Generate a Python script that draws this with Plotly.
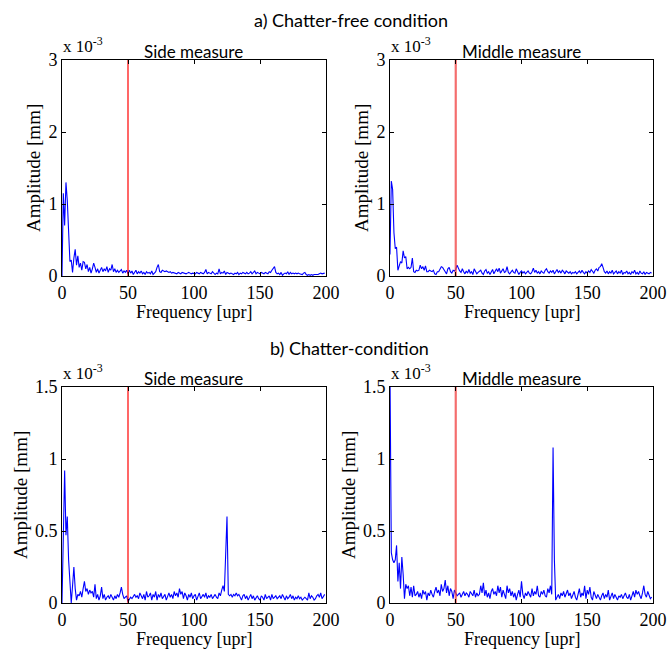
import plotly.graph_objects as go

# Frequency axis [upr]
freq = list(range(200))

# Amplitudes in units of 1e-3 mm
side_free = [
    0.00, 1.15, 0.70, 1.30, 1.05, 0.70, 0.20, 0.22, 0.05, 0.25,
    0.37, 0.15, 0.28, 0.12, 0.18, 0.08, 0.20, 0.19, 0.10, 0.16,
    0.06, 0.12, 0.04, 0.10, 0.18, 0.12, 0.05, 0.10, 0.04, 0.08,
    0.12, 0.06, 0.10, 0.07, 0.13, 0.05, 0.10, 0.08, 0.16, 0.06,
    0.10, 0.05, 0.08, 0.05, 0.07, 0.09, 0.04, 0.07, 0.05, 0.08,
    0.03, 0.08, 0.04, 0.07, 0.02, 0.06, 0.08, 0.03, 0.06, 0.04,
    0.07, 0.03, 0.05, 0.02, 0.06, 0.04, 0.05, 0.03, 0.07, 0.02,
    0.04, 0.06, 0.12, 0.16, 0.06, 0.05, 0.08, 0.07, 0.06, 0.07,
    0.06, 0.05, 0.06, 0.04, 0.05, 0.04, 0.04, 0.03, 0.05, 0.04,
    0.03, 0.05, 0.04, 0.04, 0.03, 0.04, 0.05, 0.04, 0.03, 0.04,
    0.04, 0.03, 0.05, 0.04, 0.03, 0.05, 0.04, 0.03, 0.05, 0.09,
    0.03, 0.05, 0.04, 0.03, 0.06, 0.04, 0.02, 0.04, 0.03, 0.10,
    0.03, 0.05, 0.04, 0.07, 0.02, 0.05, 0.04, 0.03, 0.04, 0.03,
    0.02, 0.04, 0.03, 0.05, 0.02, 0.04, 0.03, 0.05, 0.04, 0.03,
    0.05, 0.03, 0.04, 0.06, 0.03, 0.05, 0.07, 0.03, 0.05, 0.04,
    0.03, 0.05, 0.04, 0.03, 0.05, 0.04, 0.03, 0.06, 0.05, 0.08,
    0.10, 0.13, 0.05, 0.03, 0.04, 0.02, 0.05, 0.01, 0.03, 0.04,
    0.03, 0.06, 0.02, 0.05, 0.03, 0.04, 0.03, 0.04, 0.03, 0.04,
    0.03, 0.03, 0.02, 0.04, 0.05, 0.02, 0.01, 0.02, 0.01, 0.02,
    0.01, 0.02, 0.02, 0.01, 0.02, 0.03, 0.04, 0.03, 0.04, 0.04,
]

middle_free = [
    0.30, 1.32, 1.20, 0.60, 0.38, 0.40, 0.08, 0.15, 0.20, 0.18,
    0.35, 0.25, 0.27, 0.10, 0.12, 0.10, 0.12, 0.25, 0.06, 0.05,
    0.08, 0.07, 0.08, 0.15, 0.10, 0.13, 0.08, 0.14, 0.06, 0.06,
    0.08, 0.07, 0.06, 0.08, 0.03, 0.02, 0.06, 0.06, 0.10, 0.13,
    0.12, 0.08, 0.06, 0.03, 0.10, 0.12, 0.06, 0.04, 0.08, 0.07,
    0.09, 0.15, 0.10, 0.07, 0.05, 0.10, 0.06, 0.03, 0.07, 0.04,
    0.09, 0.04, 0.06, 0.02, 0.10, 0.05, 0.03, 0.05, 0.06, 0.08,
    0.04, 0.02, 0.07, 0.09, 0.04, 0.06, 0.02, 0.05, 0.09, 0.03,
    0.08, 0.10, 0.06, 0.11, 0.04, 0.08, 0.10, 0.05, 0.06, 0.13,
    0.05, 0.03, 0.06, 0.08, 0.05, 0.04, 0.10, 0.06, 0.02, 0.05,
    0.07, 0.04, 0.06, 0.03, 0.05, 0.07, 0.04, 0.03, 0.06, 0.11,
    0.05, 0.08, 0.04, 0.06, 0.03, 0.07, 0.05, 0.04, 0.08, 0.10,
    0.06, 0.04, 0.07, 0.05, 0.08, 0.03, 0.06, 0.09, 0.05, 0.07,
    0.04, 0.08, 0.06, 0.03, 0.07, 0.05, 0.04, 0.06, 0.03, 0.05,
    0.04, 0.06, 0.03, 0.05, 0.07, 0.04, 0.08, 0.05, 0.03, 0.06,
    0.04, 0.07, 0.05, 0.09, 0.06, 0.04, 0.08, 0.10, 0.07, 0.12,
    0.13, 0.17, 0.12, 0.06, 0.04, 0.07, 0.03, 0.06, 0.04, 0.08,
    0.03, 0.05, 0.07, 0.03, 0.06, 0.04, 0.08, 0.02, 0.05, 0.04,
    0.07, 0.03, 0.05, 0.02, 0.06, 0.04, 0.08, 0.03, 0.05, 0.02,
    0.07, 0.04, 0.03, 0.06, 0.02, 0.05, 0.04, 0.03, 0.05, 0.04,
]

side_chatter = [
    0.00, 0.60, 0.92, 0.47, 0.60, 0.30, 0.15, 0.00, 0.12, 0.25,
    0.10, 0.02, 0.06, 0.05, 0.08, 0.04, 0.10, 0.15, 0.08, 0.10,
    0.06, 0.09, 0.07, 0.08, 0.04, 0.13, 0.03, 0.06, 0.02, 0.05,
    0.11, 0.03, 0.06, 0.02, 0.04, 0.05, 0.03, 0.06, 0.04, 0.02,
    0.05, 0.03, 0.06, 0.04, 0.07, 0.11, 0.06, 0.03, 0.04, 0.05,
    0.01, 0.03, 0.04, 0.03, 0.05, 0.06, 0.04, 0.05, 0.03, 0.07,
    0.05, 0.03, 0.06, 0.02, 0.08, 0.04, 0.05, 0.07, 0.02, 0.06,
    0.04, 0.08, 0.02, 0.06, 0.04, 0.07, 0.03, 0.05, 0.06, 0.02,
    0.05, 0.07, 0.04, 0.06, 0.03, 0.08, 0.05, 0.07, 0.04, 0.10,
    0.06, 0.08, 0.03, 0.07, 0.05, 0.02, 0.06, 0.04, 0.07, 0.03,
    0.05, 0.06, 0.02, 0.04, 0.07, 0.03, 0.05, 0.06, 0.04, 0.07,
    0.03, 0.05, 0.04, 0.06, 0.03, 0.05, 0.06, 0.04, 0.03, 0.07,
    0.05, 0.09, 0.12, 0.08, 0.30, 0.60, 0.06, 0.05, 0.06, 0.04,
    0.06, 0.05, 0.07, 0.05, 0.06, 0.04, 0.02, 0.05, 0.06, 0.03,
    0.05, 0.02, 0.04, 0.06, 0.03, 0.05, 0.02, 0.04, 0.05, 0.03,
    0.02, 0.05, 0.04, 0.02, 0.06, 0.03, 0.04, 0.05, 0.02, 0.06,
    0.03, 0.04, 0.05, 0.03, 0.04, 0.05, 0.03, 0.06, 0.04, 0.02,
    0.05, 0.03, 0.04, 0.06, 0.03, 0.05, 0.02, 0.04, 0.03, 0.05,
    0.03, 0.04, 0.02, 0.03, 0.04, 0.03, 0.02, 0.07, 0.03, 0.05,
    0.04, 0.02, 0.03, 0.05, 0.06, 0.04, 0.07, 0.03, 0.05, 0.06,
]

middle_chatter = [
    1.60, 0.35, 0.30, 0.28, 0.30, 0.40, 0.15, 0.28, 0.10, 0.32,
    0.20, 0.03, 0.13, 0.10, 0.12, 0.05, 0.11, 0.04, 0.12, 0.05,
    0.06, 0.08, 0.04, 0.07, 0.03, 0.09, 0.06, 0.08, 0.02, 0.07,
    0.05, 0.09, 0.06, 0.04, 0.08, 0.11, 0.07, 0.09, 0.05, 0.13,
    0.08, 0.10, 0.16, 0.07, 0.12, 0.05, 0.10, 0.08, 0.03, 0.09,
    0.07, 0.05, 0.06, 0.07, 0.04, 0.06, 0.08, 0.05, 0.07, 0.06,
    0.04, 0.08, 0.06, 0.05, 0.09, 0.04, 0.07, 0.05, 0.06, 0.12,
    0.07, 0.14, 0.05, 0.09, 0.04, 0.07, 0.03, 0.08, 0.10, 0.06,
    0.08, 0.05, 0.12, 0.07, 0.11, 0.04, 0.09, 0.06, 0.03, 0.12,
    0.07, 0.10, 0.05, 0.08, 0.04, 0.07, 0.02, 0.06, 0.09, 0.04,
    0.15, 0.06, 0.03, 0.07, 0.05, 0.08, 0.06, 0.04, 0.10, 0.05,
    0.08, 0.06, 0.12, 0.05, 0.04, 0.08, 0.06, 0.09, 0.05, 0.04,
    0.10, 0.07, 0.12, 0.06, 1.08, 0.30, 0.02, 0.04, 0.06, 0.03,
    0.07, 0.05, 0.08, 0.04, 0.06, 0.09, 0.05, 0.07, 0.03, 0.06,
    0.08, 0.04, 0.02, 0.06, 0.10, 0.04, 0.07, 0.05, 0.12, 0.03,
    0.09, 0.06, 0.11, 0.04, 0.02, 0.08, 0.05, 0.03, 0.06, 0.04,
    0.02, 0.05, 0.07, 0.03, 0.06, 0.04, 0.09, 0.02, 0.05, 0.07,
    0.03, 0.06, 0.04, 0.02, 0.05, 0.04, 0.06, 0.03, 0.05, 0.07,
    0.04, 0.03, 0.06, 0.02, 0.05, 0.08, 0.04, 0.09, 0.06, 0.08,
    0.05, 0.03, 0.07, 0.12, 0.06, 0.04, 0.08, 0.05, 0.03, 0.04,
]

marker_freq = 50
x_ticks = [0, 50, 100, 150, 200]
y_ticks_free = [0, 1, 2, 3]
y_ticks_chatter = [0, 0.5, 1, 1.5]

W, H = 667, 650
def px_x(p): return p / W
def px_y(p): return 1 - p / H

panels = [
    # data, subtitle, x px, y px, y range, y ticks, red marker style, y-title offset
    (side_free, "Side measure", (62, 326), (60, 276), [0, 3], y_ticks_free, ("#ff0000", 1.2), 29),
    (middle_free, "Middle measure", (390, 653), (60, 276), [0, 3], y_ticks_free, ("rgba(240,60,60,0.75)", 2.2), 29),
    (side_chatter, "Side measure", (62, 326), (387, 603), [0, 1.5], y_ticks_chatter, ("#ff0000", 1.2), 42),
    (middle_chatter, "Middle measure", (390, 653), (387, 603), [0, 1.5], y_ticks_chatter, ("rgba(240,60,60,0.75)", 2.2), 42),
]

serif = "Liberation Serif, Times New Roman, serif"
sans = "Lato, Open Sans, sans-serif"
black = "black"

fig = go.Figure()
layout = dict(width=W, height=H, margin=dict(l=0, r=0, t=0, b=0, autoexpand=False),
              paper_bgcolor="white", plot_bgcolor="white", showlegend=False)
annotations = []

for i, (data, sub, xd, yd, yr, yt, red, yoff) in enumerate(panels):
    n = i + 1
    xa = "x" if n == 1 else f"x{n}"
    ya = "y" if n == 1 else f"y{n}"
    xkey = "xaxis" if n == 1 else f"xaxis{n}"
    ykey = "yaxis" if n == 1 else f"yaxis{n}"
    fig.add_trace(go.Scatter(x=freq, y=data, mode="lines",
                             line=dict(color="#0000ff", width=1.1),
                             xaxis=xa, yaxis=ya, hoverinfo="skip"))
    fig.add_trace(go.Scatter(x=[marker_freq, marker_freq], y=[yr[0], yr[1]], mode="lines",
                             line=dict(color=red[0], width=red[1]),
                             xaxis=xa, yaxis=ya, hoverinfo="skip"))
    common = dict(showline=True, linecolor=black, linewidth=1, mirror="ticks",
                  ticks="inside", ticklen=4, tickcolor=black, showgrid=False,
                  zeroline=False, automargin=False,
                  tickfont=dict(family=serif, size=18, color=black))
    layout[xkey] = dict(domain=[px_x(xd[0]), px_x(xd[1])], range=[0, 200],
                        tickvals=x_ticks, anchor=ya, **common)
    layout[ykey] = dict(domain=[px_y(yd[1]), px_y(yd[0])], range=yr,
                        tickvals=yt, anchor=xa, **common)
    cx = (xd[0] + xd[1]) / 2
    cy = (yd[0] + yd[1]) / 2
    annotations.append(dict(text="Amplitude [mm]", x=px_x(xd[0] - yoff), y=px_y(cy),
                            xref="paper", yref="paper", xanchor="center", yanchor="middle",
                            textangle=-90, showarrow=False,
                            font=dict(family=serif, size=19, color=black)))
    annotations.append(dict(text="Frequency [upr]", x=px_x(cx), y=px_y(yd[1] + 36),
                            xref="paper", yref="paper", xanchor="center", yanchor="middle",
                            showarrow=False, font=dict(family=serif, size=18, color=black)))
    annotations.append(dict(text="x 10<sup>-3</sup>", x=px_x(xd[0] - 1), y=px_y(yd[0] - 2),
                            xref="paper", yref="paper", xanchor="left", yanchor="bottom",
                            showarrow=False, font=dict(family=serif, size=17, color=black)))
    annotations.append(dict(text=sub, x=px_x(xd[0] + 131), y=px_y(yd[0] - 9),
                            xref="paper", yref="paper", xanchor="center", yanchor="middle",
                            showarrow=False, font=dict(family=sans, size=17, color=black)))

annotations.append(dict(text="a) Chatter-free condition", x=px_x(351), y=px_y(20),
                        xref="paper", yref="paper", xanchor="center", yanchor="middle",
                        showarrow=False, font=dict(family=sans, size=18, color=black)))
annotations.append(dict(text="b) Chatter-condition", x=px_x(350), y=px_y(348),
                        xref="paper", yref="paper", xanchor="center", yanchor="middle",
                        showarrow=False, font=dict(family=sans, size=18, color=black)))

layout["annotations"] = annotations
fig.update_layout(**layout)
fig.write_html("out.html", config={"displayModeBar": False},
               post_script="document.body.style.margin='0';document.body.style.overflow='hidden';")
